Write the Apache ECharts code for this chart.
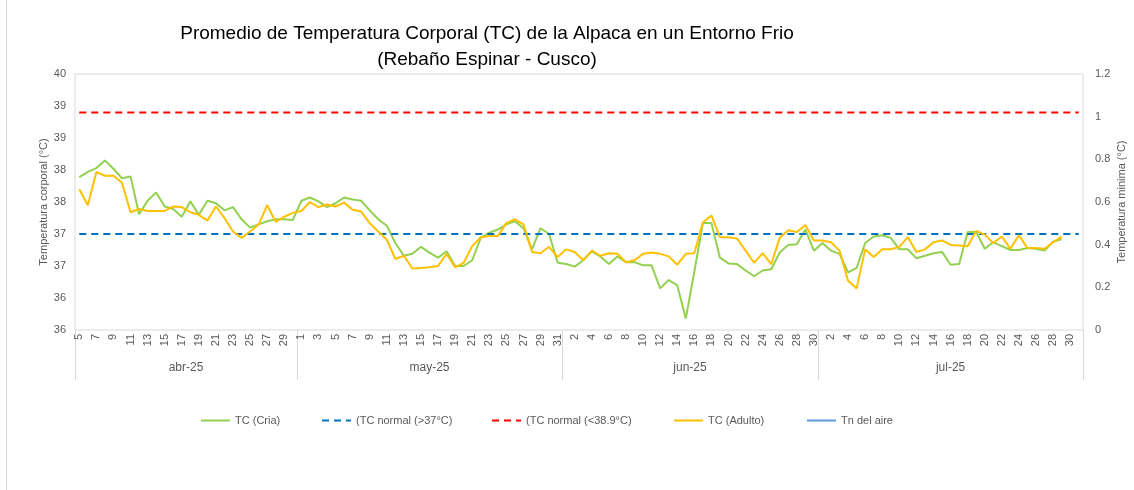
<!DOCTYPE html>
<html>
<head>
<meta charset="utf-8">
<script src="https://cdn.jsdelivr.net/npm/echarts@6/dist/echarts.min.js"></script>
<style>
  html, body { margin: 0; padding: 0; background: #fff; overflow: hidden; }
  #chart { width: 1134px; height: 490px; }
</style>
</head>
<body>
<div id="chart"></div>
<script>
// months shown on the lower axis level, with first / last day plotted
var monthNames = ['abr-25', 'may-25', 'jun-25', 'jul-25'];
var monthFirstDay = [5, 1, 1, 1];
var monthLastDay = [30, 31, 30, 31];

// daily means (°C), 5 abr -> 29 jul
var tcCria = [
  37.89, 37.97, 38.03, 38.15, 38.02, 37.87, 37.90, 37.31, 37.52, 37.65, 37.43, 37.39, 37.27, 37.51, 37.30, 37.52, 37.48, 37.37, 37.42, 37.23,
  37.10, 37.15, 37.20, 37.23, 37.23, 37.22, 37.52, 37.57, 37.51, 37.42, 37.48, 37.57, 37.54, 37.52, 37.37, 37.23, 37.13, 36.86, 36.66,
  36.69, 36.80, 36.71, 36.63, 36.73, 36.50, 36.50, 36.59, 36.94, 37.02, 37.07, 37.15, 37.20, 37.09, 36.76, 37.09, 37.00, 36.55, 36.53,
  36.49, 36.59, 36.73, 36.65, 36.53, 36.65, 36.56, 36.56, 36.51, 36.51, 36.15, 36.28, 36.20, 35.68, 36.41, 37.17, 37.17, 36.63, 36.54,
  36.53, 36.43, 36.34, 36.43, 36.45, 36.71, 36.83, 36.84, 37.07, 36.74, 36.86, 36.74, 36.69, 36.40, 36.47, 36.86, 36.96, 36.98, 36.94,
  36.76, 36.76, 36.62, 36.66, 36.70, 36.72, 36.52, 36.53, 37.03, 37.03, 36.77, 36.87, 36.81, 36.75, 36.75, 36.78, 36.77, 36.74, 36.88, 36.92
];
var tcAdulto = [
  37.70, 37.45, 37.97, 37.91, 37.91, 37.80, 37.34, 37.39, 37.36, 37.36, 37.36, 37.43, 37.42, 37.34, 37.30, 37.21, 37.43, 37.25, 37.04, 36.94,
  37.04, 37.15, 37.45, 37.19, 37.27, 37.33, 37.36, 37.50, 37.42, 37.46, 37.43, 37.49, 37.38, 37.35, 37.17, 37.04, 36.91, 36.61, 36.66,
  36.46, 36.47, 36.48, 36.50, 36.69, 36.48, 36.55, 36.81, 36.95, 36.97, 36.97, 37.17, 37.23, 37.15, 36.72, 36.70, 36.80, 36.64, 36.76,
  36.72, 36.59, 36.74, 36.66, 36.70, 36.69, 36.56, 36.59, 36.69, 36.71, 36.69, 36.65, 36.52, 36.69, 36.70, 37.18, 37.29, 36.95, 36.95,
  36.93, 36.74, 36.55, 36.70, 36.53, 36.94, 37.06, 37.03, 37.14, 36.90, 36.90, 36.87, 36.74, 36.27, 36.15, 36.76, 36.64, 36.76, 36.76,
  36.80, 36.95, 36.72, 36.76, 36.87, 36.90, 36.83, 36.82, 36.81, 37.05, 36.99, 36.86, 36.96, 36.77, 36.98, 36.78, 36.78, 36.77, 36.87, 36.96
];
var tnAire = []; // no values plotted in the source

var tcNormalMin = 37;
var tcNormalMax = 38.9;

// [min, max, interval]
var tempAxis = [35.5, 39.5, 0.5];
var minAxis = [0, 1.2, 0.2];

var txt = '#595959';
var font = 'Liberation Sans';

// build the day categories and month bookkeeping
var days = [], monthStart = [], monthMid = {};
monthNames.forEach(function (m, k) {
  monthStart.push(days.length);
  var len = monthLastDay[k] - monthFirstDay[k] + 1;
  var mid = days.length + Math.ceil(len / 2) - 1;
  monthMid[mid] = { name: m, even: len % 2 === 0 };
  for (var d = monthFirstDay[k]; d <= monthLastDay[k]; d++) {
    days.push(m + '|' + d);
  }
});

var normLow = days.map(function () { return tcNormalMin; });
var normHigh = days.map(function () { return tcNormalMax; });

var chart = echarts.init(document.getElementById('chart'));

function legendAt(name, x) {
  return {
    data: [name],
    left: x, top: 415, padding: 0,
    itemWidth: 29, itemHeight: 10, itemGap: 0,
    itemStyle: { opacity: 0 },
    textStyle: { color: txt, fontSize: 11, fontFamily: font }
  };
}

var option = {
  animation: false,
  title: {
    text: 'Promedio de Temperatura Corporal (TC) de la Alpaca en un Entorno Frio\n(Rebaño Espinar - Cusco)',
    left: 482, top: 16, textAlign: 'center',
    textStyle: { color: '#000', fontSize: 19, fontWeight: 'normal', fontFamily: font, lineHeight: 26 }
  },
  graphic: [{
    type: 'line', silent: true,
    shape: { x1: 6.5, y1: 0, x2: 6.5, y2: 490 },
    style: { stroke: '#d9d9d9', lineWidth: 1 }
  }],
  legend: [
    legendAt('TC (Cria)', 200),
    legendAt('(TC normal (>37°C)', 321),
    legendAt('(TC normal (<38.9°C)', 491),
    legendAt('TC (Adulto)', 673),
    legendAt('Tn del aire', 806)
  ],
  grid: {
    left: 75, right: 51, top: 74, bottom: 160,
    outerBoundsMode: 'none',
    show: true, borderColor: '#d9d9d9', borderWidth: 1
  },
  xAxis: [{
    type: 'category', data: days, boundaryGap: true,
    axisLine: { show: false }, axisTick: { show: false },
    axisLabel: {
      interval: 1, rotate: 90, margin: 4,
      color: txt, fontSize: 11, fontFamily: font,
      formatter: function (v) { return v.split('|')[1]; }
    }
  }, {
    type: 'category', data: days, boundaryGap: true, position: 'bottom',
    axisLine: { show: false },
    axisTick: {
      show: true, length: 50,
      interval: function (i) { return monthStart.indexOf(i) >= 0; },
      lineStyle: { color: '#d9d9d9', width: 1 }
    },
    axisLabel: {
      margin: 32, color: txt, fontSize: 12, fontFamily: font,
      interval: function (i) { return !!monthMid[i]; },
      formatter: function (v, i) {
        var m = monthMid[i];
        if (!m) return '';
        return m.even ? '{s|' + m.name + '}' : m.name;
      },
      rich: { s: { padding: [0, 0, 0, 8.5], color: txt, fontSize: 12, fontFamily: font } }
    }
  }],
  yAxis: [{
    type: 'value', min: tempAxis[0], max: tempAxis[1], interval: tempAxis[2],
    name: 'Temperatura corporal (°C)', nameLocation: 'middle', nameGap: 26, nameRotate: 90,
    nameMoveOverlap: false,
    nameTextStyle: { color: txt, fontSize: 11, fontFamily: font },
    axisLine: { show: false }, axisTick: { show: false }, splitLine: { show: false },
    axisLabel: {
      color: txt, fontSize: 11, fontFamily: font, margin: 9,
      formatter: function (v) { return String(Math.round(v)); }
    }
  }, {
    type: 'value', min: minAxis[0], max: minAxis[1], interval: minAxis[2], position: 'right',
    name: 'Temperatura minima (°C)', nameLocation: 'middle', nameGap: 33, nameRotate: 90,
    nameMoveOverlap: false,
    nameTextStyle: { color: txt, fontSize: 11, fontFamily: font },
    axisLine: { show: false }, axisTick: { show: false }, splitLine: { show: false },
    axisLabel: { color: txt, fontSize: 11, fontFamily: font, margin: 12 }
  }],
  series: [{
    name: 'TC (Cria)', type: 'line', data: tcCria, showSymbol: false, symbol: 'none',
    itemStyle: { color: '#92d050' }, lineStyle: { color: '#92d050', width: 2 }
  }, {
    name: '(TC normal (>37°C)', type: 'line', data: normLow, showSymbol: false, symbol: 'none',
    itemStyle: { color: '#0070c0' }, lineStyle: { color: '#0070c0', width: 2, type: [7, 5] }
  }, {
    name: '(TC normal (<38.9°C)', type: 'line', data: normHigh, showSymbol: false, symbol: 'none',
    itemStyle: { color: '#ff0000' }, lineStyle: { color: '#ff0000', width: 2, type: [7, 5] }
  }, {
    name: 'TC (Adulto)', type: 'line', data: tcAdulto, showSymbol: false, symbol: 'none',
    itemStyle: { color: '#ffc000' }, lineStyle: { color: '#ffc000', width: 2 }
  }, {
    name: 'Tn del aire', type: 'line', yAxisIndex: 1, data: tnAire, showSymbol: false, symbol: 'none',
    itemStyle: { color: '#5b9bd5' }, lineStyle: { color: '#5b9bd5', width: 2 }
  }]
};

chart.setOption(option);
</script>
</body>
</html>
